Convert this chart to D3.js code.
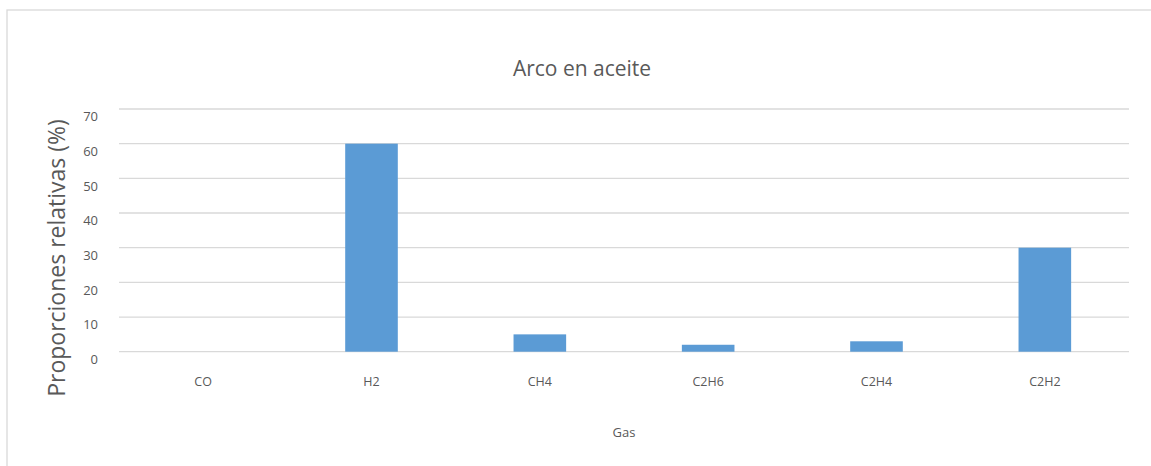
<!DOCTYPE html>
<html>
<head>
<meta charset="utf-8">
<script src="https://cdn.jsdelivr.net/npm/d3@7"></script>
<style>
  body { margin: 0; background: #fff; }
  text { font-family: "Open Sans", "Noto Sans", sans-serif; fill: #595959; }
</style>
</head>
<body>
<svg id="chart"></svg>
<script>
var categories = ["CO", "H2", "CH4", "C2H6", "C2H4", "C2H2"];
var values = [0, 60, 5, 2, 3, 30];
var yTicks = [0, 10, 20, 30, 40, 50, 60, 70];

var W = 1151, H = 466;
var m = {top: 109, right: 22, bottom: 114.3, left: 119};

var svg = d3.select("#chart").attr("width", W).attr("height", H);

// chart area border (runs off the right and bottom edge)
svg.append("rect")
  .attr("x", 7).attr("y", 10)
  .attr("width", W + 20).attr("height", H + 20)
  .attr("fill", "#fff")
  .attr("stroke", "#d9d9d9").attr("stroke-width", 1.3);

var x = d3.scaleBand()
  .domain(categories)
  .range([m.left, W - m.right])
  .paddingInner(0.6875).paddingOuter(0.34375);

var y = d3.scaleLinear()
  .domain([0, 70])
  .range([H - m.bottom, m.top]);

// gridlines
svg.append("g").selectAll("line")
  .data(yTicks)
  .enter().append("line")
  .attr("x1", m.left).attr("x2", W - m.right)
  .attr("y1", function(d){ return y(d); })
  .attr("y2", function(d){ return y(d); })
  .attr("stroke", "#d9d9d9").attr("stroke-width", 1.3);

// y tick labels
var yAxis = svg.append("g")
  .attr("transform", "translate(" + (m.left - 21) + ",0)")
  .call(d3.axisLeft(y).tickValues(yTicks).tickSize(0).tickPadding(0));
yAxis.select(".domain").remove();
yAxis.selectAll("text")
  .attr("font-size", 13).attr("dy", "0.9em")
  .style("font-family", "'Open Sans', sans-serif").attr("fill", "#595959");

// bars
svg.append("g").selectAll("rect")
  .data(values)
  .enter().append("rect")
  .attr("x", function(d, i){ return x(categories[i]); })
  .attr("width", x.bandwidth())
  .attr("y", function(d){ return y(d); })
  .attr("height", function(d){ return y(0) - y(d); })
  .attr("fill", "#5b9bd5");

// x labels
var xAxis = svg.append("g")
  .attr("transform", "translate(0," + (y(0) + 30) + ")")
  .call(d3.axisBottom(x).tickSize(0).tickPadding(0));
xAxis.select(".domain").remove();
xAxis.selectAll("text")
  .attr("font-size", 12.5).attr("dy", "0.35em")
  .style("font-family", "'Open Sans', sans-serif").attr("fill", "#595959");

// titles
svg.append("text")
  .attr("x", 582).attr("y", 76)
  .attr("text-anchor", "middle")
  .attr("font-size", 21)
  .text("Arco en aceite");

svg.append("text")
  .attr("x", 624).attr("y", 437)
  .attr("text-anchor", "middle")
  .attr("font-size", 13)
  .text("Gas");

svg.append("text")
  .attr("transform", "translate(65,258) rotate(-90)")
  .attr("text-anchor", "middle")
  .attr("font-size", 23)
  .text("Proporciones relativas (%)");
</script>
</body>
</html>
